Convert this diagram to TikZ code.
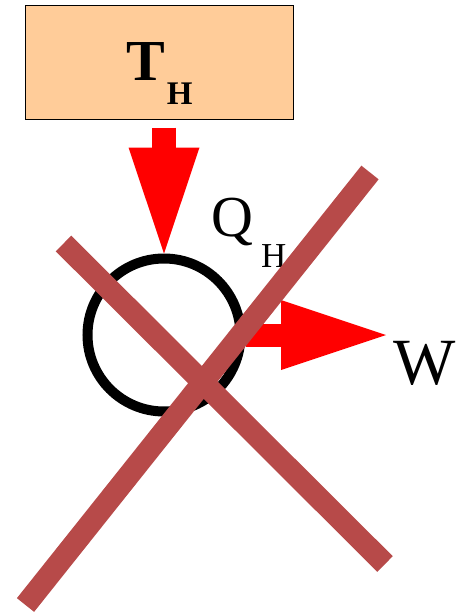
\documentclass[tikz,border=0pt]{standalone}
\usepackage{fontspec}
\setmainfont{Liberation Serif}
\usetikzlibrary{arrows.meta, positioning, calc}
\definecolor{peachres}{RGB}{255,204,153}
\definecolor{crossred}{RGB}{183,74,73}

\begin{document}
\begin{tikzpicture}[x=1pt, y=-1pt,
        reservoir/.style={rectangle, draw=black, line width=1pt, fill=peachres,
                    minimum width=268pt, minimum height=114pt, inner sep=0pt},
        engine/.style={circle, draw=black, line width=10pt, minimum size=153pt, inner sep=0pt},
        heatarr/.style={-{Triangle[length=106pt,width=71pt,line width=0pt]}, line width=24pt, red},
        workarr/.style={-{Triangle[length=105pt,width=70pt,line width=0pt]}, line width=23pt, red},
        cross/.style={line width=22pt, crossred},
        lbl/.style={inner sep=0pt, anchor=base west}
    ]
        \useasboundingbox (0,0) rectangle (458,613);
        \node[reservoir] (hot) at (159,62) {};
        \node[lbl, font=\fontsize{58}{58}\selectfont\bfseries] (thlabel) at (126,80)
            {T\hspace{2pt}\raisebox{-24pt}{\fontsize{33}{33}\selectfont H}};
        \node[engine] (eng) at (164,335) {};
        \coordinate (wend) at (386,335);
        \draw[heatarr] ($(hot.south -| eng.north)+(0,8)$) -- (eng.north);
        \draw[workarr] (eng.east) -- (wend);
        \node[lbl, font=\fontsize{58}{58}\selectfont] (qh) at (211,236)
            {Q\hspace{8pt}\raisebox{-31pt}{\fontsize{35}{35}\selectfont H}};
        \node[lbl, font=\fontsize{66}{66}\selectfont] (work) at (393,384) {W};
        % the cross over the engine
        \coordinate (xa) at (63.5,243.5);
        \coordinate (xb) at (385,564);
        \coordinate (xc) at (370,172.5);
        \coordinate (xd) at (25.5,605);
        \draw[cross] (xa) -- (xb);
        \draw[cross] (xc) -- (xd);
    \end{tikzpicture}
\end{document}
